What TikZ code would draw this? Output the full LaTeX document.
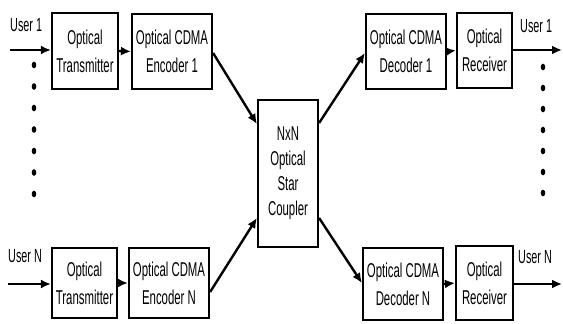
\documentclass[tikz,border=0pt]{standalone}
\usepackage{fontspec}
\setmainfont{Liberation Sans}[FakeStretch=0.57]
\usetikzlibrary{arrows.meta,calc}
\begin{document}
\begin{tikzpicture}[x=1pt,y=-1pt,
  blk/.style={draw, line width=2.2pt, inner sep=0pt, align=center,
    font=\fontsize{20}{28}\selectfont},
  flow/.style={line width=2.4pt, -{Latex[length=10pt,width=9pt]}},
  lbl/.style={inner sep=0pt, anchor=base west, font=\fontsize{19}{22}\selectfont},
  dot/.style={fill=black, draw=none}]
\useasboundingbox (0,0) rectangle (563,324);

% transmitting side
\node[blk, minimum width=66pt, minimum height=76pt] (T1) at (85,51) {Optical\\Transmitter};
\node[blk, minimum width=80pt, minimum height=75pt] (E1) at (172,51.5) {Optical CDMA\\Encoder 1};
\node[blk, minimum width=65pt, minimum height=70pt] (TN) at (84.5,283) {Optical\\Transmitter};
\node[blk, minimum width=80pt, minimum height=70pt] (EN) at (169,283) {Optical CDMA\\Encoder N};

% star coupler
\node[blk, minimum width=60pt, minimum height=147pt, font=\fontsize{20}{25}\selectfont] (C) at (288,173.5) {NxN\\Optical\\Star\\Coupler};

% receiving side
\node[blk, minimum width=80pt, minimum height=75pt] (D1) at (406,51.5) {Optical CDMA\\Decoder 1};
\node[blk, minimum width=55pt, minimum height=75pt] (R1) at (484.5,50.5) {Optical\\Receiver};
\node[blk, minimum width=80pt, minimum height=72pt] (DN) at (403,284) {Optical CDMA\\Decoder N};
\node[blk, minimum width=57pt, minimum height=74pt] (RN) at (484.5,283) {Optical\\Receiver};

% user inputs and outputs
\coordinate (in1) at (10,50);
\coordinate (inN) at (8,284);
\coordinate (out1) at (562,50);
\coordinate (outN) at (562,284);
\node[lbl] (u1) at (10,31) {User 1};
\node[lbl] (uN) at (8,262) {User N};
\node[lbl] (v1) at (520,32) {User 1};
\node[lbl] (vN) at (518,263) {User N};

\draw[flow] (in1) -- (in1 -| T1.west);
\draw[flow] (inN) -- (inN -| TN.west);
\draw[flow] (T1.east) -- (E1.west);
\draw[flow] (TN.east) -- (EN.west);
\draw[flow] (D1.east) -- (R1.west);
\draw[flow] (DN.east) -- (RN.west);
\draw[flow] (R1.east |- out1) -- (out1);
\draw[flow] (RN.east |- outN) -- (outN);

% links through the coupler
\draw[flow] ($(E1.east)+(0,1.5)$) -- ($(C.west)+(0,-49.5)$);
\draw[flow] ($(EN.east)+(0,9)$) -- ($(C.west)+(0,44.5)$);
\draw[flow] ($(C.east)+(0,-50.5)$) -- ($(D1.west)+(0,1.5)$);
\draw[flow] ($(C.east)+(0,44.5)$) -- ($(DN.west)+(0,-1)$);

% ellipsis dots between user 1 and user N
\foreach \k in {0,...,6} {
  \fill[dot] (34,65+21.5*\k) ellipse [x radius=2.3pt, y radius=3.3pt];
  \fill[dot] (543,67+21*\k) ellipse [x radius=2.3pt, y radius=3.3pt];
}
\end{tikzpicture}
\end{document}
